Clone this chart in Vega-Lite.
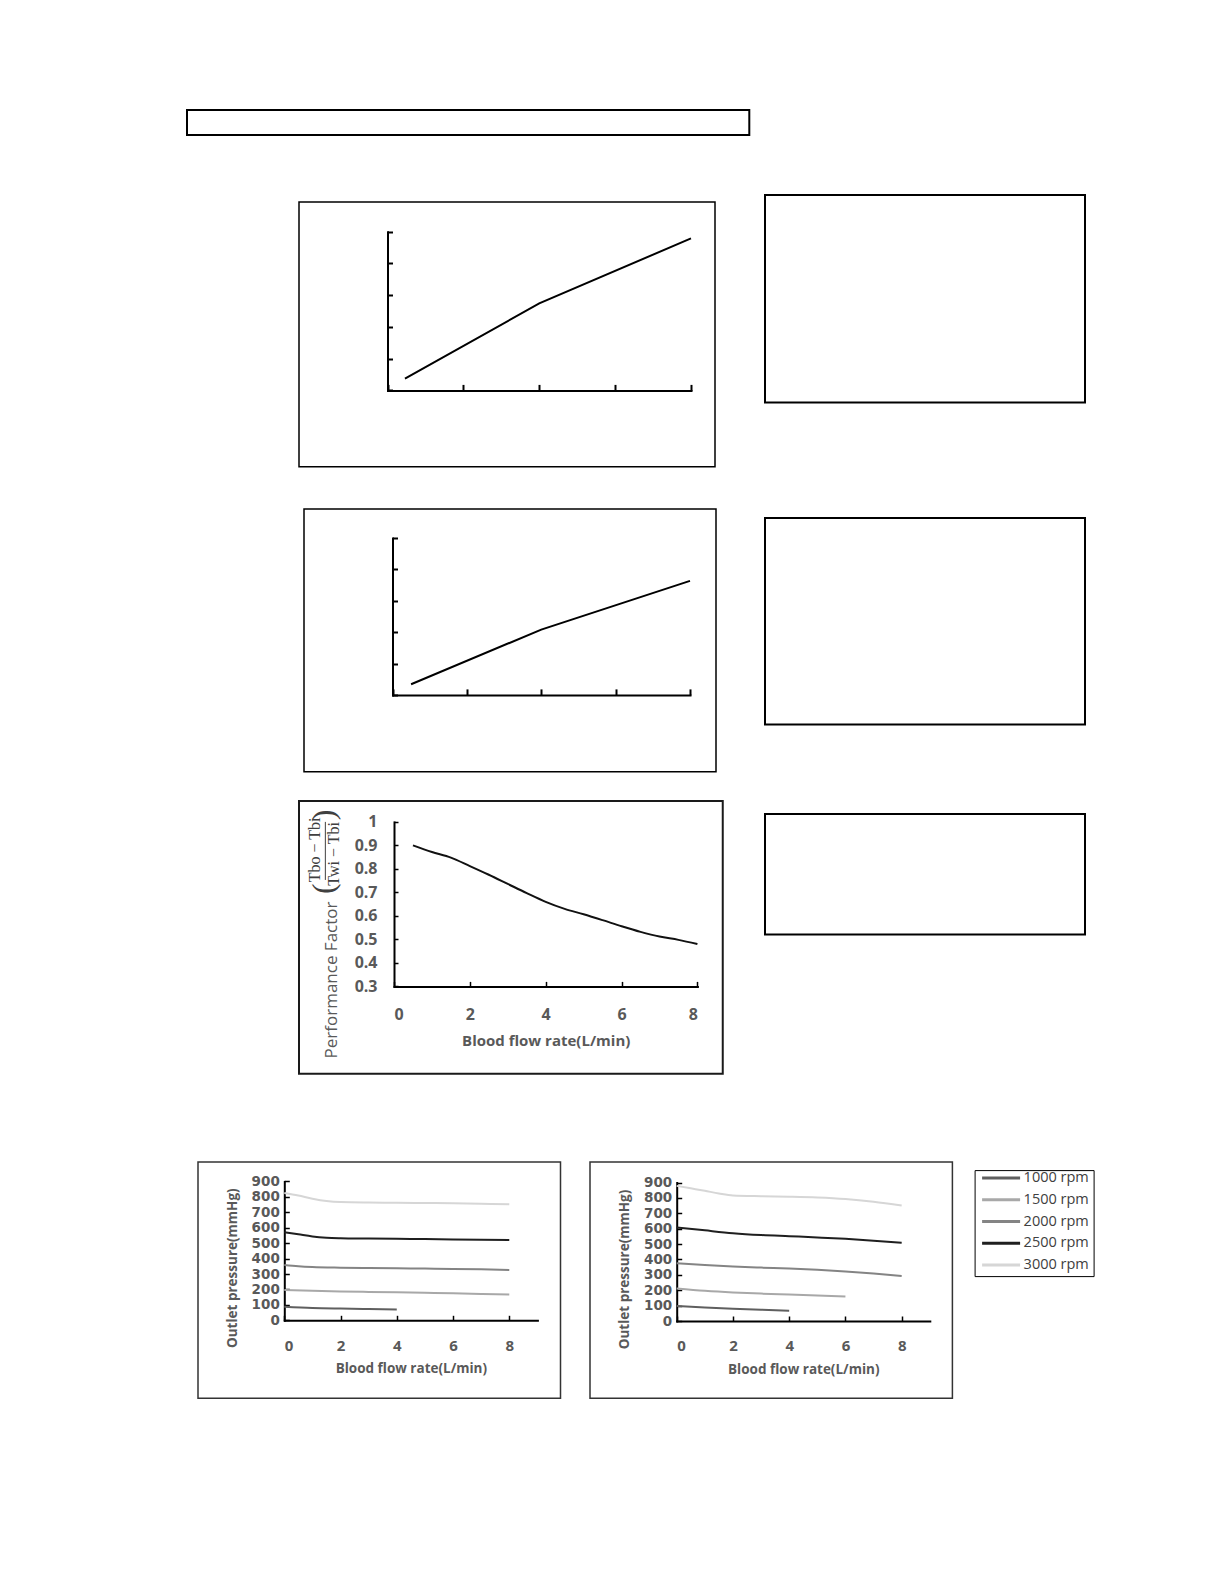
{
  "$schema": "https://vega.github.io/schema/vega-lite/v6.json",
  "padding": {"left": 0, "top": 109, "right": 0, "bottom": 0},
  "background": "white",
  "spacing": 0,
  "config": {
    "concat": {"spacing": 0},
    "view": {"stroke": null},
    "font": "Open Sans",
    "axis": {
      "grid": false,
      "domainColor": "#000",
      "domainWidth": 2,
      "domainCap": "square",
      "tickColor": "#000",
      "tickWidth": 1.5,
      "labelColor": "#595959",
      "labelFont": "Open Sans",
      "labelFontWeight": "bold",
      "labelOverlap": false,
      "titleColor": "#595959",
      "titleFont": "Open Sans",
      "titleFontWeight": "bold"
    }
  },
  "resolve": {"scale": {"color": "independent"}, "legend": {"color": "independent"}},
  "vconcat": [
    {
      "spacing": 0,
      "hconcat": [
        {"width": 185.3, "height": 1, "data": {"values": []}, "mark": "point"},
        {"width": 562.3, "height": 24.9, "data": {"values": []}, "mark": "point", "view": {"stroke": "#000", "strokeWidth": 2}}
      ]
    },
    {"width": 1, "height": 57.5, "data": {"values": []}, "mark": "point"},
    {
      "spacing": 0,
      "hconcat": [
        {"width": 297.25, "height": 1, "data": {"values": []}, "mark": "point"},
        {
          "spacing": 0,
          "vconcat": [
            {"width": 1, "height": 5.25, "data": {"values": []}, "mark": "point"},
            {
              "width": 416,
              "height": 264.7,
              "view": {"stroke": "#000", "strokeWidth": 1.5},
              "data": {"values": [{"x": 0.23, "y": 0.37}, {"x": 2.0, "y": 2.74}, {"x": 4.0, "y": 4.79}]},
              "mark": {"type": "line", "color": "#000", "strokeWidth": 2},
              "encoding": {
                "x": {
                  "field": "x", "type": "quantitative",
                  "scale": {"domain": [0, 4], "range": [88.5, 392], "nice": false},
                  "axis": {"offset": -76.3, "values": [0, 1, 2, 3, 4], "labels": false, "title": null, "tickSize": -6, "tickWidth": 2}
                },
                "y": {
                  "field": "y", "type": "quantitative",
                  "scale": {"domain": [0, 5], "range": [188.4, 29.7], "nice": false},
                  "axis": {"offset": -88.5, "values": [0, 1, 2, 3, 4, 5], "labels": false, "title": null, "tickSize": -5, "tickWidth": 2}
                }
              }
            },
            {"width": 1, "height": 39.9, "data": {"values": []}, "mark": "point"},
            {
              "spacing": 0,
              "hconcat": [
                {"width": 4, "height": 1, "data": {"values": []}, "mark": "point"},
                {
                  "width": 412,
                  "height": 262.8,
                  "view": {"stroke": "#000", "strokeWidth": 1.5},
                  "data": {"values": [{"x": 0.25, "y": 0.34}, {"x": 2.0, "y": 2.08}, {"x": 4.0, "y": 3.63}]},
                  "mark": {"type": "line", "color": "#000", "strokeWidth": 2},
                  "encoding": {
                    "x": {
                      "field": "x", "type": "quantitative",
                      "scale": {"domain": [0, 4], "range": [88.5, 386], "nice": false},
                      "axis": {"offset": -76.9, "values": [0, 1, 2, 3, 4], "labels": false, "title": null, "tickSize": -6, "tickWidth": 2}
                    },
                    "y": {
                      "field": "y", "type": "quantitative",
                      "scale": {"domain": [0, 5], "range": [185.9, 28.9], "nice": false},
                      "axis": {"offset": -88.5, "values": [0, 1, 2, 3, 4, 5], "labels": false, "title": null, "tickSize": -5, "tickWidth": 2}
                    }
                  }
                }
              ]
            },
            {"width": 1, "height": 26.55, "data": {"values": []}, "mark": "point"},
            {
              "width": 423.75,
              "height": 272.8,
              "view": {"stroke": "#1a1a1a", "strokeWidth": 2},
              "resolve": {"axis": {"x": "independent", "y": "independent"}},
              "layer": [
                {
                  "data": {"values": [
                    {"flow": 0.5, "pf": 0.9}, {"flow": 1.0, "pf": 0.872}, {"flow": 1.5, "pf": 0.848},
                    {"flow": 2.0, "pf": 0.812}, {"flow": 2.5, "pf": 0.775}, {"flow": 3.0, "pf": 0.736},
                    {"flow": 3.5, "pf": 0.697}, {"flow": 4.0, "pf": 0.66}, {"flow": 4.5, "pf": 0.63},
                    {"flow": 5.0, "pf": 0.607}, {"flow": 5.5, "pf": 0.582}, {"flow": 6.0, "pf": 0.556},
                    {"flow": 6.5, "pf": 0.532}, {"flow": 7.0, "pf": 0.512}, {"flow": 7.5, "pf": 0.498},
                    {"flow": 8.0, "pf": 0.48}
                  ]},
                  "mark": {"type": "line", "color": "#111", "strokeWidth": 2, "interpolate": "monotone"},
                  "encoding": {
                    "x": {
                      "field": "flow", "type": "quantitative",
                      "scale": {"domain": [0, 8], "range": [95.0, 398.4], "nice": false},
                      "axis": {
                        "offset": -87.4, "values": [0, 2, 4, 6, 8], "tickSize": -5, "labelOverlap": false,
                        "labelFontSize": 16, "labelPadding": 25.5,
                        "title": "Blood flow rate(L/min)", "titleFontSize": 15, "titlePadding": 11
                      }
                    },
                    "y": {
                      "field": "pf", "type": "quantitative",
                      "scale": {"domain": [0.3, 1.0], "range": [185.4, 20.9], "nice": false, "zero": false},
                      "axis": {
                        "offset": -95.0, "values": [0.3, 0.4, 0.5, 0.6, 0.7, 0.8, 0.9, 1.0], "format": ".1~f", "tickSize": -4,
                        "labelOverlap": false, "labelBound": false,
                        "labelFontSize": 16, "labelPadding": 21,
                        "title": "Performance Factor", "titleFontSize": 17, "titleFontWeight": "normal", "titleY": 178.5, "titlePadding": 14
                      }
                    }
                  }
                },
                {
                  "data": {"values": [{}]},
                  "mark": {"type": "text", "text": "Tbo − Tbi", "angle": 270, "font": "Liberation Serif", "fontSize": 16, "color": "#404040", "baseline": "middle"},
                  "encoding": {"x": {"datum": -2.07, "type": "quantitative", "axis": null}, "y": {"datum": 0.881, "type": "quantitative", "axis": null}}
                },
                {
                  "data": {"values": [{}]},
                  "mark": {"type": "text", "text": "Twi − Tbi", "angle": 270, "font": "Liberation Serif", "fontSize": 16, "color": "#404040", "baseline": "middle"},
                  "encoding": {"x": {"datum": -1.59, "type": "quantitative", "axis": null}, "y": {"datum": 0.864, "type": "quantitative", "axis": null}}
                },
                {
                  "data": {"values": [{}]},
                  "mark": {"type": "rule", "color": "#404040", "strokeWidth": 1},
                  "encoding": {"x": {"datum": -1.81, "type": "quantitative", "axis": null}, "y": {"datum": 0.753, "type": "quantitative", "axis": null}, "y2": {"datum": 1.0}}
                },
                {
                  "data": {"values": [{}]},
                  "mark": {"type": "text", "text": "(", "angle": 270, "font": "Liberation Serif", "fontSize": 32, "color": "#404040", "baseline": "middle"},
                  "encoding": {"x": {"datum": -1.85, "type": "quantitative", "axis": null}, "y": {"datum": 0.716, "type": "quantitative", "axis": null}}
                },
                {
                  "data": {"values": [{}]},
                  "mark": {"type": "text", "text": ")", "angle": 270, "font": "Liberation Serif", "fontSize": 32, "color": "#404040", "baseline": "middle"},
                  "encoding": {"x": {"datum": -1.85, "type": "quantitative", "axis": null}, "y": {"datum": 1.03, "type": "quantitative", "axis": null}}
                }
              ]
            }
          ]
        },
        {"width": 39.5, "height": 1, "data": {"values": []}, "mark": "point"},
        {
          "spacing": 0,
          "vconcat": [
            {"width": 320, "height": 207.4, "data": {"values": []}, "mark": "point", "view": {"stroke": "#000", "strokeWidth": 2}},
            {"width": 1, "height": 112.6, "data": {"values": []}, "mark": "point"},
            {"width": 320, "height": 206.4, "data": {"values": []}, "mark": "point", "view": {"stroke": "#000", "strokeWidth": 2}},
            {"width": 1, "height": 86.8, "data": {"values": []}, "mark": "point"},
            {"width": 320, "height": 120.6, "data": {"values": []}, "mark": "point", "view": {"stroke": "#000", "strokeWidth": 2}}
          ]
        }
      ]
    },
    {"width": 1, "height": 85.85, "data": {"values": []}, "mark": "point"},
    {
      "spacing": 0,
      "resolve": {"scale": {"color": "independent"}, "legend": {"color": "independent"}},
      "hconcat": [
        {"width": 196.25, "height": 1, "data": {"values": []}, "mark": "point"},
        {
          "width": 362.5,
          "height": 236.3,
          "view": {"stroke": "#333", "strokeWidth": 1.5},
          "data": {"values": [
            {"rpm": "1000 rpm", "flow": 0, "p": 88}, {"rpm": "1000 rpm", "flow": 1, "p": 80}, {"rpm": "1000 rpm", "flow": 2, "p": 76},
            {"rpm": "1000 rpm", "flow": 3, "p": 73}, {"rpm": "1000 rpm", "flow": 4, "p": 70},
            {"rpm": "1500 rpm", "flow": 0, "p": 197}, {"rpm": "1500 rpm", "flow": 1, "p": 191}, {"rpm": "1500 rpm", "flow": 2, "p": 187},
            {"rpm": "1500 rpm", "flow": 3, "p": 184}, {"rpm": "1500 rpm", "flow": 4, "p": 181}, {"rpm": "1500 rpm", "flow": 5, "p": 178},
            {"rpm": "1500 rpm", "flow": 6, "p": 175}, {"rpm": "1500 rpm", "flow": 7, "p": 171}, {"rpm": "1500 rpm", "flow": 8, "p": 167},
            {"rpm": "2000 rpm", "flow": 0, "p": 358}, {"rpm": "2000 rpm", "flow": 0.5, "p": 350}, {"rpm": "2000 rpm", "flow": 1, "p": 345},
            {"rpm": "2000 rpm", "flow": 2, "p": 341}, {"rpm": "2000 rpm", "flow": 3, "p": 339}, {"rpm": "2000 rpm", "flow": 4, "p": 337},
            {"rpm": "2000 rpm", "flow": 5, "p": 335}, {"rpm": "2000 rpm", "flow": 6, "p": 333}, {"rpm": "2000 rpm", "flow": 7, "p": 330},
            {"rpm": "2000 rpm", "flow": 8, "p": 326},
            {"rpm": "2500 rpm", "flow": 0, "p": 571}, {"rpm": "2500 rpm", "flow": 0.5, "p": 557}, {"rpm": "2500 rpm", "flow": 1, "p": 543},
            {"rpm": "2500 rpm", "flow": 1.5, "p": 535}, {"rpm": "2500 rpm", "flow": 2, "p": 532}, {"rpm": "2500 rpm", "flow": 3, "p": 530},
            {"rpm": "2500 rpm", "flow": 4, "p": 528}, {"rpm": "2500 rpm", "flow": 5, "p": 526}, {"rpm": "2500 rpm", "flow": 6, "p": 524},
            {"rpm": "2500 rpm", "flow": 7, "p": 522}, {"rpm": "2500 rpm", "flow": 8, "p": 520},
            {"rpm": "3000 rpm", "flow": 0, "p": 825}, {"rpm": "3000 rpm", "flow": 0.5, "p": 808}, {"rpm": "3000 rpm", "flow": 1, "p": 788},
            {"rpm": "3000 rpm", "flow": 1.5, "p": 773}, {"rpm": "3000 rpm", "flow": 2, "p": 766}, {"rpm": "3000 rpm", "flow": 3, "p": 763},
            {"rpm": "3000 rpm", "flow": 4, "p": 762}, {"rpm": "3000 rpm", "flow": 5, "p": 760}, {"rpm": "3000 rpm", "flow": 6, "p": 758},
            {"rpm": "3000 rpm", "flow": 7, "p": 755}, {"rpm": "3000 rpm", "flow": 8, "p": 752}
          ]},
          "mark": {"type": "line", "strokeWidth": 2, "interpolate": "monotone"},
          "encoding": {
            "x": {
              "field": "flow", "type": "quantitative",
              "scale": {"domain": [0, 9], "range": [86.3, 339.4], "nice": false},
              "axis": {
                "offset": -78.0, "values": [0, 2, 4, 6, 8], "tickSize": -5, "labelOverlap": false,
                "labelFontSize": 15, "labelPadding": 22.7,
                "title": "Blood flow rate(L/min)", "titleFontSize": 13.5, "titlePadding": 8.7
              }
            },
            "y": {
              "field": "p", "type": "quantitative",
              "scale": {"domain": [0, 900], "range": [158.3, 19.4], "nice": false},
              "axis": {
                "offset": -86.3, "values": [0, 100, 200, 300, 400, 500, 600, 700, 800, 900], "tickSize": -5, "labelOverlap": false,
                "labelFont": "DejaVu Sans", "labelFontSize": 13.5, "labelPadding": 10,
                "title": "Outlet pressure(mmHg)", "titleFontSize": 13.5, "titleY": 105.7, "titlePadding": 12
              }
            },
            "color": {
              "field": "rpm", "type": "nominal",
              "scale": {"domain": ["1000 rpm", "1500 rpm", "2000 rpm", "2500 rpm", "3000 rpm"], "range": ["#5f5f5f", "#a8a8a8", "#848484", "#1f1f1f", "#d6d6d6"]},
              "legend": null
            }
          }
        },
        {"width": 27.0, "height": 1, "data": {"values": []}, "mark": "point"},
        {
          "width": 362.4,
          "height": 236.3,
          "view": {"stroke": "#333", "strokeWidth": 1.5},
          "data": {"values": [
            {"rpm": "1000 rpm", "flow": 0, "p": 97}, {"rpm": "1000 rpm", "flow": 1, "p": 88}, {"rpm": "1000 rpm", "flow": 2, "p": 80},
            {"rpm": "1000 rpm", "flow": 3, "p": 73}, {"rpm": "1000 rpm", "flow": 4, "p": 67},
            {"rpm": "1500 rpm", "flow": 0, "p": 212}, {"rpm": "1500 rpm", "flow": 1, "p": 197}, {"rpm": "1500 rpm", "flow": 2, "p": 186},
            {"rpm": "1500 rpm", "flow": 3, "p": 178}, {"rpm": "1500 rpm", "flow": 4, "p": 172}, {"rpm": "1500 rpm", "flow": 5, "p": 166},
            {"rpm": "1500 rpm", "flow": 6, "p": 160},
            {"rpm": "2000 rpm", "flow": 0, "p": 375}, {"rpm": "2000 rpm", "flow": 1, "p": 364}, {"rpm": "2000 rpm", "flow": 2, "p": 354},
            {"rpm": "2000 rpm", "flow": 3, "p": 347}, {"rpm": "2000 rpm", "flow": 4, "p": 341}, {"rpm": "2000 rpm", "flow": 5, "p": 333},
            {"rpm": "2000 rpm", "flow": 6, "p": 322}, {"rpm": "2000 rpm", "flow": 7, "p": 308}, {"rpm": "2000 rpm", "flow": 8, "p": 292},
            {"rpm": "2500 rpm", "flow": 0, "p": 608}, {"rpm": "2500 rpm", "flow": 1, "p": 589}, {"rpm": "2500 rpm", "flow": 2, "p": 571},
            {"rpm": "2500 rpm", "flow": 3, "p": 559}, {"rpm": "2500 rpm", "flow": 4, "p": 551}, {"rpm": "2500 rpm", "flow": 5, "p": 543},
            {"rpm": "2500 rpm", "flow": 6, "p": 534}, {"rpm": "2500 rpm", "flow": 7, "p": 522}, {"rpm": "2500 rpm", "flow": 8, "p": 508},
            {"rpm": "3000 rpm", "flow": 0, "p": 878}, {"rpm": "3000 rpm", "flow": 0.5, "p": 862}, {"rpm": "3000 rpm", "flow": 1, "p": 846},
            {"rpm": "3000 rpm", "flow": 1.5, "p": 829}, {"rpm": "3000 rpm", "flow": 2, "p": 816}, {"rpm": "3000 rpm", "flow": 3, "p": 811},
            {"rpm": "3000 rpm", "flow": 4, "p": 808}, {"rpm": "3000 rpm", "flow": 5, "p": 803}, {"rpm": "3000 rpm", "flow": 6, "p": 793},
            {"rpm": "3000 rpm", "flow": 7, "p": 775}, {"rpm": "3000 rpm", "flow": 8, "p": 750}
          ]},
          "mark": {"type": "line", "strokeWidth": 2, "interpolate": "monotone"},
          "encoding": {
            "x": {
              "field": "flow", "type": "quantitative",
              "scale": {"domain": [0, 9], "range": [86.7, 339.8], "nice": false},
              "axis": {
                "offset": -77.3, "values": [0, 2, 4, 6, 8], "tickSize": -5, "labelOverlap": false,
                "labelFontSize": 15, "labelPadding": 22.7,
                "title": "Blood flow rate(L/min)", "titleFontSize": 13.5, "titlePadding": 8.7
              }
            },
            "y": {
              "field": "p", "type": "quantitative",
              "scale": {"domain": [0, 900], "range": [159.0, 20.5], "nice": false},
              "axis": {
                "offset": -86.7, "values": [0, 100, 200, 300, 400, 500, 600, 700, 800, 900], "tickSize": -5, "labelOverlap": false,
                "labelFont": "DejaVu Sans", "labelFontSize": 13.5, "labelPadding": 10,
                "title": "Outlet pressure(mmHg)", "titleFontSize": 13.5, "titleY": 107, "titlePadding": 12
              }
            },
            "color": {
              "field": "rpm", "type": "nominal",
              "scale": {"domain": ["1000 rpm", "1500 rpm", "2000 rpm", "2500 rpm", "3000 rpm"], "range": ["#5f5f5f", "#a8a8a8", "#848484", "#1f1f1f", "#d6d6d6"]},
              "legend": {
                "orient": "none", "legendX": 384.6, "legendY": 8.1, "title": null,
                "symbolType": "stroke", "symbolSize": 1444, "symbolStrokeWidth": 3, "symbolOffset": 2,
                "clipHeight": 8, "rowPadding": 6.7, "padding": 4,
                "labelFont": "Open Sans", "labelFontSize": 14.5, "labelColor": "#404040", "labelOffset": 2,
                "strokeColor": "#000"
              }
            }
          }
        }
      ]
    }
  ]
}
